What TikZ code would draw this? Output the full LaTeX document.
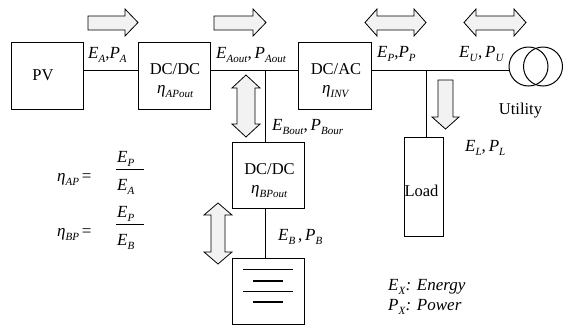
\documentclass[tikz,border=0pt]{standalone}
\usepackage{fontspec}
\setmainfont{Liberation Serif}
\newcommand{\lsub}[1]{\raisebox{-0.28em}{\fontsize{11}{11}\selectfont\textit{#1}}}
\newcommand{\lv}[2]{\textit{#1}\lsub{#2}}
\tikzset{
  x=1pt,y=-1pt,
  wire/.style={line width=1pt,draw=black},
  box/.style={draw=black,line width=1pt,fill=white,inner sep=0,anchor=north west,outer sep=0},
  coil/.style={draw=black,line width=1pt,circle,inner sep=0,outer sep=0,minimum size=39},
  blockarrow/.style={draw=black,line width=0.8pt,fill=black!5,line join=miter},
  txt/.style={inner sep=0pt,anchor=base west,font=\fontsize{17}{17}\selectfont},
  ctr/.style={inner sep=0pt,anchor=base,font=\fontsize{16.5}{16.5}\selectfont,align=center},
}
\begin{document}
\begin{tikzpicture}
\useasboundingbox (0,0) rectangle (563,325);
% boxes
\node[box,minimum width=72,minimum height=67] (pvb) at (11,42) {};
\node[box,minimum width=72,minimum height=67] (d1) at (138,42) {};
\node[box,minimum width=73,minimum height=67] (inv) at (298,42) {};
\node[box,minimum width=72,minimum height=66] (d2) at (232,142) {};
\node[box,minimum width=72,minimum height=66] (bat) at (232,258) {};
\node[box,minimum width=39,minimum height=99] (ld) at (404,137) {};
% transformer
\node[coil] (t1) at (528.5,66.5) {};
\node[coil] (t2) at (543,66.5) {};
% wires
\coordinate (j1) at (265,70);
\coordinate (j2) at (426,70);
\draw[wire] (pvb.east |- j1) -- (d1.west |- j1);
\draw[wire] (d1.east |- j1) -- (inv.west |- j1);
\draw[wire] (inv.east |- j1) -- (t1.west |- j1);
\draw[wire] (j1) -- (j1 |- d2.north);
\draw[wire] (j1 |- d2.south) -- (j1 |- bat.north);
\draw[wire] (j2) -- (j2 |- ld.north);
% battery plates
\draw[wire] (243,269) -- (293,269);
\draw[wire,line width=1.6pt] (253,281) -- (283,281);
\draw[wire] (243,291) -- (293,291);
\draw[wire,line width=1.6pt] (253,302) -- (283,302);
% block arrows
\draw[blockarrow] (88,16) -- (125,16) -- (125,9) -- (138,22.5) -- (125,36) -- (125,30) -- (88,30) -- cycle;
\draw[blockarrow] (214,16) -- (253,16) -- (253,9) -- (266,22.5) -- (253,36) -- (253,30) -- (214,30) -- cycle;
\draw[blockarrow] (365,22.5) -- (377,9) -- (377,16) -- (414,16) -- (414,9) -- (426,22.5) -- (414,36) -- (414,30) -- (377,30) -- (377,36) -- cycle;
\draw[blockarrow] (464,22.5) -- (476,9) -- (476,16) -- (514,16) -- (514,9) -- (526,22.5) -- (514,36) -- (514,30) -- (476,30) -- (476,36) -- cycle;
\draw[blockarrow] (246,75) -- (260,88) -- (255,88) -- (255,124) -- (260,124) -- (246,137) -- (232,124) -- (237,124) -- (237,88) -- (232,88) -- cycle;
\draw[blockarrow] (218,203) -- (232,215) -- (225,215) -- (225,252) -- (232,252) -- (218,264) -- (204,252) -- (211,252) -- (211,215) -- (204,215) -- cycle;
\draw[blockarrow] (438,80) -- (453,80) -- (453,117) -- (459,117) -- (445.5,129) -- (432,117) -- (438,117) -- cycle;
% box texts
\node[ctr] (pv) at (43,80) {PV};
\node[ctr] (d1a) at (175,74) {DC/DC};
\node[txt] (d1b) at (157,93) {\textit{η}\lsub{APout}};
\node[ctr] (inva) at (336,74) {DC/AC};
\node[txt] (invb) at (322,93) {\textit{η}\lsub{INV}};
\node[ctr] (d2a) at (269.5,174) {DC/DC};
\node[txt] (d2b) at (251,193) {\textit{η}\lsub{BPout}};
\node[ctr] (load) at (421.5,196) {Load};
\node[ctr] (util) at (520.5,114) {Utility};
% flow labels
\node[txt] (l1) at (88,58) {\lv{E}{A},\textit{P}\lsub{A}};
\node[txt] (l2) at (216,58) {\lv{E}{Aout},\,\textit{P}\lsub{Aout}};
\node[txt] (l3) at (377,57) {\lv{E}{P},\textit{P}\lsub{P}};
\node[txt] (l4) at (459,57) {\lv{E}{U},\,\textit{P}\lsub{U}};
\node[txt] (l5) at (272,130) {\lv{E}{Bout},\,\textit{P}\lsub{Bour}};
\node[txt] (l6) at (465,151) {\lv{E}{L},\,\textit{P}\lsub{L}};
\node[txt] (l7) at (278,240) {\lv{E}{B}\,,\,\textit{P}\lsub{B}};
% efficiency
\node[txt] (e1) at (57,181) {\textit{η}\lsub{AP}\,=};
\node[txt] (e2) at (57,236) {\textit{η}\lsub{BP}\,=};
\node[txt] (f1n) at (117,162) {\lv{E}{P}};
\node[txt] (f1d) at (117,190) {\lv{E}{A}};
\node[txt] (f2n) at (117,217) {\lv{E}{P}};
\node[txt] (f2d) at (117,245) {\lv{E}{B}};
\draw[wire] (116,169.5) -- (144,169.5);
\draw[wire] (116,224.5) -- (144,224.5);
% legend
\node[txt] (x1) at (388,290) {\lv{E}{X}\textit{: Energy}};
\node[txt] (x2) at (388,310) {\lv{P}{X}\textit{: Power}};
\end{tikzpicture}
\end{document}
